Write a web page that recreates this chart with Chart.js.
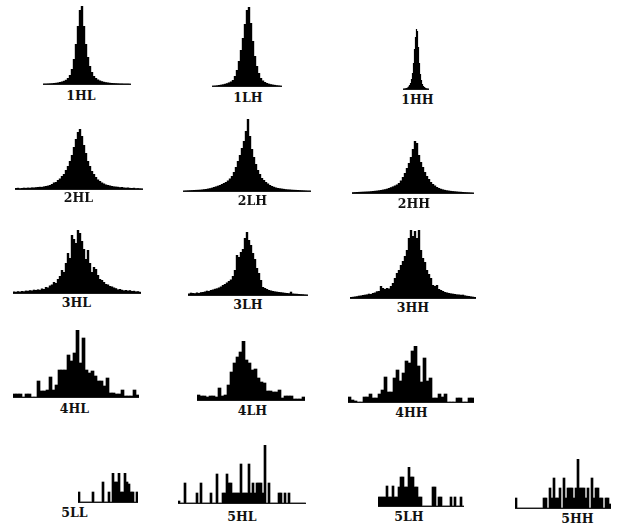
<!DOCTYPE html>
<html>
<head>
<meta charset="utf-8">
<script src="https://cdn.jsdelivr.net/npm/chart.js@4/dist/chart.umd.min.js"></script>
<style>
  html, body { margin: 0; padding: 0; background: #fff; }
  body { position: relative; width: 618px; height: 526px; overflow: hidden; }
  canvas { position: absolute; }
  .lbl {
    position: absolute;
    font-family: "DejaVu Serif", "Liberation Serif", serif;
    font-size: 12.5px;
    font-weight: bold;
    line-height: 1;
    color: #111;
    white-space: nowrap;
    transform: translateX(-50%);
  }
</style>
</head>
<body>
<script>
// Histograms of wavelet subband coefficients, five decomposition levels.
// Values are bin counts (relative heights), left to right.

// Level 1
const hist1HL = [0.5,0.5,0.6,0.7,0.8,1,1.2,1.5,2,2.5, 3.2,4.2,6,9,15,25,40,58,74,78,
                 58,40,27,18,12,8,6,4.5,3.5,2.8, 2.2,1.8,1.5,1.2,1,0.9,0.8,0.7,0.6,0.6,
                 0.5,0.5,0.5,0.4];
const hist1LH = [0.4,0.5,0.7,1,1.3,1.7,2.2,2.8,3.6,4.5, 6,10,16,25,36,48,62,76,79,63,
                 45,30,20,13,8,5.5,4,3,2.3,1.8, 1.4,1.1,0.8,0.6,0.4];
const hist1HH = [0.5,0.6,0.8,1,1.5,2.5,4,6,10,16, 26,40,52,60,58,42,26,15,9,5,
                 3,2,1.2,0.8,0.6,0.5];

// Level 2
const hist2HL = [1,1.2,0.8,1,1.3,1.1,1.4,1.2,1.6,1.5, 1.8,2,2.2,2.1,2.6,3,3.4,4,5,6.5,
                 7,9,10.5,13,15,19,23,28,34,42, 50,57,60,53,44,36,28,23,18,15,
                 12,9.5,8,6.5,5.5,4.5,4,3.5,3,2.6, 2.4,2.2,1.8,2,1.5,1.3,1.5,1.1,1,1.2,
                 0.8,0.9,0.7,0.6];
const hist2LH = [0.5,0.6,0.7,0.8,0.9,1,1.1,1.2,1.3,1.5, 1.8,2,2.4,2.8,3.3,4,4.6,5.3,6,7,
                 8,9,10.5,12.5,15,19,24,30,36,43, 50,60,72,55,42,34,27,21,17,13,
                 11,9,7.5,6,5,4.2,3.5,3,2.7,2.4, 2.1,1.8,1.6,1.5,1.3,1.2,1.1,1,0.9,0.8,
                 0.7,0.6,0.5,0.5];
const hist2HH = [0.8,0.9,1,1.1,1.2,1.3,1.4,1.5,1.6,1.8, 2,2.2,2.4,2.7,3,3.4,3.8,4.3,5,5.8,
                 6.6,7.5,8.5,10,12.5,16,20,25,30,36, 44,52,50,38,31,26,21,17,14,11,
                 9,7.5,6,5,4.2,3.6,3.1,2.7,2.4,2.1, 1.9,1.7,1.5,1.3,1.2,1,0.9,0.8,0.7,0.6,
                 0.5];

// Level 3
const hist3HL = [1.5,1.2,1.8,1.4,2,1.7,2.4,2.2,2.8,2.5, 3.3,3,3.6,3.2,4.5,4,6,5.5,7.5,8.5,
                 11,10,14,17,23,21,30,40,35,58, 54,50,63,60,52,44,34,43,30,21,
                 26,24,18,14,13,11,9,8.5,7,6.5, 5.5,4.8,3.6,4,3.2,2.6,3,2.4,2.8,2,
                 2.2,1.6,1.8,1.2];
const hist3LH = [1.5,2.3,2,1.8,2.5,2,2.8,3,3.5,4.3, 4,5,5.5,6.2,6.7,7.5,8.5,10,11,12.5,
                 14,15.5,19,25,40,38,43,46,57,63, 55,50,42,36,27,22,15,8,7,6,
                 5,4.5,4,3.6,3.3,3,2.8,2.5,2.2,2, 1.8,3.3,1.5,1.3,1.2,1,0.9,0.8,0.6,0.5];
const hist3HH = [1,1.2,1.5,1.8,2.3,2.5,3,3.3,3.6,4.3, 4,5,5.5,6.7,7,12,10,9,10,9.5,
                 12,15,20,25,28,33,37,42,48,60, 68,62,67,60,68,48,40,36,28,24,
                 20,13,12,13,9,8,7,6,5.5,5, 4.6,4.3,4,3.6,3.5,3.2,3.3,2.6,2.2,2,
                 1.6,1.3,1];

// Level 4
const hist4HL = [3,3,3,0,3,3,0,0,16,6, 6,7,20,7,12,27,27,27,42,36,
                 44,67,34,59,27,24,26,21,16,16, 11,19,4,4,3,3,7,1,1,1,
                 7,2];
const hist4LH = [5,4,4,3,4,4,3,12,4,5, 15,28,37,43,48,59,40,37,30,31,
                 22,18,17,9,9,8,8,10,2,4, 4,4,1,1,1,3];
const hist4HH = [5,2,1,0,0,5,5,8,4,4, 8,12,25,10,10,24,32,21,29,41,
                 39,51,56,36,20,44,21,24,4,4, 8,5,8,0,0,0,4,4,0,0,
                 4,4];

// Level 5
const hist5LL = [10,0,0,0,0,0,0,10,0,0, 0,0,20,0,0,10,0,29,20,20,
                 29,10,10,29,20,18,10,10,0,10];
const hist5HL = [2,0,0,20,0,0,0,0,0,10, 0,20,0,0,0,0,10,0,0,29,
                 0,0,10,10,29,20,20,10,10,10, 10,39,10,10,10,39,10,20,10,20,
                 20,20,10,58,0,20,0,0,0,0, 10,10,0,10,0,10,0,0,0,0,
                 0,0,0,0];
const hist5LH = [9,9,9,9,20,9,9,20,9,9, 19,29,29,19,19,39,29,29,19,19,
                 9,9,0,0,0,0,0,19,19,0, 9,9,0,0,0,0,9,0,9,0,
                 0,9,0];
const hist5HH = [10,0,0,0,0,0,0,0,0,0, 0,0,0,0,10,10,0,20,10,30,
                 10,10,20,0,30,10,20,20,20,10, 20,49,20,20,20,10,20,0,30,10,
                 20,20,10,10,0,10,10,4];

// Subband names and their series
const subbands = ['1HL','1LH','1HH','2HL','2LH','2HH','3HL','3LH','3HH',
                  '4HL','4LH','4HH','5LL','5HL','5LH','5HH'];
const series = {
  '1HL': hist1HL, '1LH': hist1LH, '1HH': hist1HH,
  '2HL': hist2HL, '2LH': hist2LH, '2HH': hist2HH,
  '3HL': hist3HL, '3LH': hist3LH, '3HH': hist3HH,
  '4HL': hist4HL, '4LH': hist4LH, '4HH': hist4HH,
  '5LL': hist5LL, '5HL': hist5HL, '5LH': hist5LH, '5HH': hist5HH
};

// Panel placement on the page: plot box (left, right, top, baseline) and caption anchor
const layout = {
  '1HL': { l: 43,  r: 131, t: 6,   b: 84,  cx: 81,    cy: 92 },
  '1LH': { l: 212, r: 282, t: 7,   b: 86,  cx: 248,   cy: 94 },
  '1HH': { l: 403, r: 429, t: 29,  b: 89,  cx: 417.5, cy: 96 },
  '2HL': { l: 15,  r: 143, t: 129, b: 189, cx: 78.5,  cy: 194 },
  '2LH': { l: 183, r: 311, t: 119, b: 191, cx: 252.5, cy: 197 },
  '2HH': { l: 352, r: 474, t: 141, b: 193, cx: 414,   cy: 200 },
  '3HL': { l: 13,  r: 141, t: 230, b: 293, cx: 76.5,  cy: 299 },
  '3LH': { l: 188, r: 308, t: 232, b: 295, cx: 248,   cy: 301 },
  '3HH': { l: 350, r: 476, t: 230, b: 298, cx: 413,   cy: 304 },
  '4HL': { l: 13,  r: 139, t: 330, b: 397, cx: 74.5,  cy: 405 },
  '4LH': { l: 197, r: 305, t: 341, b: 400, cx: 252.5, cy: 407 },
  '4HH': { l: 348, r: 474, t: 346, b: 402, cx: 411.5, cy: 409 },
  '5LL': { l: 78,  r: 138, t: 473, b: 502, cx: 74.5,  cy: 509 },
  '5HL': { l: 178, r: 306, t: 445, b: 503, cx: 242,   cy: 513 },
  '5LH': { l: 378, r: 464, t: 467, b: 506, cx: 409,   cy: 513 },
  '5HH': { l: 515, r: 611, t: 459, b: 508, cx: 577.5, cy: 515 }
};

// Thin axis line under each histogram, drawn at the scale's zero
const baseline = {
  id: 'baseline',
  afterDatasetsDraw(chart) {
    const { ctx, chartArea, scales } = chart;
    const y = Math.round(scales.y.getPixelForValue(0)) + 0.5;
    ctx.save();
    ctx.strokeStyle = '#1a1a1a';
    ctx.lineWidth = 1;
    ctx.beginPath();
    ctx.moveTo(chartArea.left, y);
    ctx.lineTo(chartArea.right, y);
    ctx.stroke();
    ctx.restore();
  }
};

subbands.forEach(name => {
  const values = series[name];
  const box = layout[name];
  const level = parseInt(name[0], 10);

  const canvas = document.createElement('canvas');
  canvas.width = box.r - box.l;
  canvas.height = box.b - box.t + 2;
  canvas.style.left = box.l + 'px';
  canvas.style.top = box.t + 'px';
  document.body.appendChild(canvas);

  new Chart(canvas, {
    type: 'bar',
    data: {
      labels: values.map((_, i) => String(i)),
      datasets: [{
        data: values,
        backgroundColor: '#000',
        borderWidth: 0,
        categoryPercentage: 1,
        barPercentage: level <= 3 ? 1.2 : 1.0
      }]
    },
    options: {
      responsive: false,
      animation: false,
      events: [],
      layout: { padding: { top: 0, bottom: 2, left: 0, right: 0 } },
      plugins: { legend: { display: false }, tooltip: { enabled: false } },
      scales: {
        x: { display: false },
        y: { display: false, min: 0, max: Math.max(...values) }
      }
    },
    plugins: [baseline]
  });

  const cap = document.createElement('div');
  cap.className = 'lbl';
  cap.textContent = name;
  cap.style.left = box.cx + 'px';
  cap.style.top = (box.cy - 1.6) + 'px';
  document.body.appendChild(cap);
});
</script>
</body>
</html>
